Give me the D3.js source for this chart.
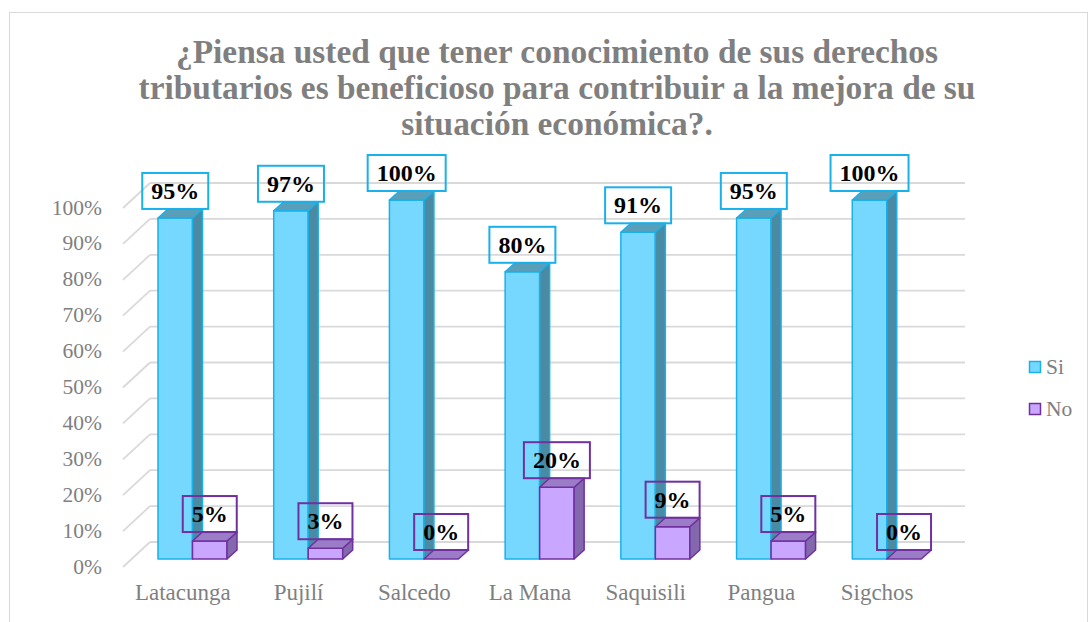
<!DOCTYPE html>
<html><head><meta charset="utf-8">
<script src="https://cdn.jsdelivr.net/npm/d3@7"></script>
<style>html,body{margin:0;padding:0;background:#fff} svg text{font-family:"Liberation Serif","Times New Roman",Times,"DejaVu Serif",serif;}</style>
</head><body>
<svg id="c" width="1089" height="622"></svg>
<script>
const categories = ["Latacunga","Pujilí","Salcedo","La Mana","Saquisili","Pangua","Sigchos"];
const siValues = [0.95,0.97,1.00,0.80,0.91,0.95,1.00];
const noValues = [0.05,0.03,0.00,0.20,0.09,0.05,0.00];
const yTicks = [0,0.1,0.2,0.3,0.4,0.5,0.6,0.7,0.8,0.9,1.0];
const titleLines = ["¿Piensa usted que tener conocimiento de sus derechos","tributarios es beneficioso para contribuir a la mejora de su","situación económica?."];
const seriesNames = ["Si","No"];

const svg = d3.select("#c");
const gray = "#7f7f7f";

svg.append("rect").attr("x",9.5).attr("y",12.5).attr("width",1078).attr("height",612)
  .attr("fill","#fff").attr("stroke","#d9d9d9").attr("stroke-width",1);

// title
svg.append("g").selectAll("text").data(titleLines).join("text")
  .attr("x",557).attr("y",(d,i)=>63+i*36)
  .attr("text-anchor","middle").attr("font-weight","bold")
  .attr("font-size",33.4).attr("fill",gray).text(d=>d);

const x = d3.scaleBand().domain(categories).range([125,935]);
const y = d3.scaleLinear().domain([0,1]).range([566,207]);
const wallDX = 25, wallDY = -24;

const grid = svg.append("g").attr("stroke","#d9d9d9").attr("stroke-width",1.8).attr("fill","none");
grid.selectAll("line.h").data(yTicks).join("line").attr("class","h")
  .attr("x1",125+wallDX).attr("x2",935+wallDX+5)
  .attr("y1",d=>y(d)+wallDY).attr("y2",d=>y(d)+wallDY);
grid.selectAll("line.d").data(yTicks).join("line").attr("class","d")
  .attr("x1",123).attr("x2",125+wallDX)
  .attr("y1",d=>y(d)+1).attr("y2",d=>y(d)+wallDY);

svg.append("g").selectAll("text").data(yTicks).join("text")
  .attr("x",102).attr("y",d=>y(d)).attr("dy","0.35em")
  .attr("text-anchor","end").attr("font-size",21.5)
  .attr("fill",gray).text(d=>d3.format(".0%")(d));

svg.append("g").selectAll("text").data(categories).join("text")
  .attr("x",d=>x(d)+x.bandwidth()/2).attr("y",600)
  .attr("text-anchor","middle").attr("font-size",23)
  .attr("fill",gray).text(d=>d);

const styles = {
  Si:{front:"#76D8FF",side:"#4A8AA3",top:"#5A9FBA",stroke:"#1AB0EA"},
  No:{front:"#C9A6FF",side:"#8468AE",top:"#9B7CC6",stroke:"#7030A0"}
};
const bw = 34.5, bdx = 10, bdy = -9, baseShift = -7;
const bars = [];
categories.forEach((c,i)=>{
  bars.push({c, s:"Si", v:siValues[i], x:x(c)+33});
  bars.push({c, s:"No", v:noValues[i], x:x(c)+33+bw});
});

const barG = svg.append("g");
bars.forEach(b=>{
  const st = styles[b.s];
  const yb = y(0)+baseShift, yt = y(b.v)+baseShift;
  const g = barG.append("g").attr("stroke",st.stroke).attr("stroke-width",1.5).attr("stroke-linejoin","round");
  if (yb-yt>0.5) {
    g.append("rect").attr("x",b.x).attr("y",yt).attr("width",bw).attr("height",yb-yt).attr("fill",st.front);
    g.append("polygon").attr("points",[[b.x+bw,yb],[b.x+bw+bdx,yb+bdy],[b.x+bw+bdx,yt+bdy],[b.x+bw,yt]].join(" ")).attr("fill",st.side);
  }
  g.append("polygon").attr("points",[[b.x,yt],[b.x+bdx,yt+bdy],[b.x+bw+bdx,yt+bdy],[b.x+bw,yt]].join(" ")).attr("fill",st.top);
});

const lblG = svg.append("g");
bars.forEach(b=>{
  const st = styles[b.s];
  const yt = y(b.v)+baseShift+bdy;
  const cx = b.x+bw/2;
  const t = lblG.append("text").attr("x",cx).attr("y",yt-10)
    .attr("text-anchor","middle").attr("font-weight","bold")
    .attr("font-size",24).attr("fill","#000").text(d3.format(".0%")(b.v));
  const w = t.node().getComputedTextLength();
  lblG.insert("rect","text").attr("x",cx-w/2-9).attr("y",yt-36).attr("width",w+18).attr("height",36)
    .attr("fill","none").attr("stroke",st.stroke).attr("stroke-width",2);
});

const leg = svg.append("g");
seriesNames.forEach((s,i)=>{
  const st = styles[s];
  leg.append("rect").attr("x",1029.5).attr("y",361.5+i*42).attr("width",11).attr("height",11)
    .attr("fill",st.front).attr("stroke",st.stroke).attr("stroke-width",1.5);
  leg.append("text").attr("x",1046).attr("y",374+i*42)
    .attr("font-size",21.5).attr("fill",gray).text(s);
});
</script>
</body></html>
